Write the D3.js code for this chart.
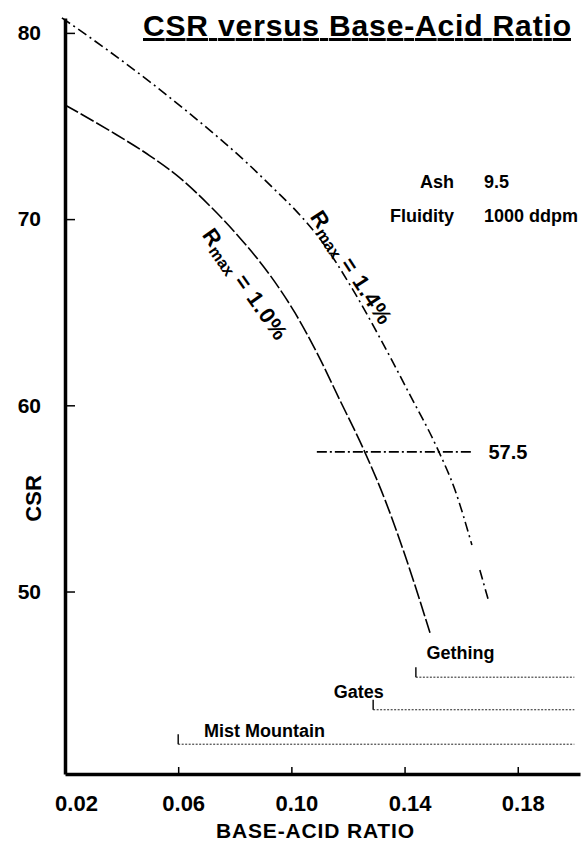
<!DOCTYPE html>
<html>
<head>
<meta charset="utf-8">
<script src="https://cdn.jsdelivr.net/npm/d3@7"></script>
<style>
  body { margin: 0; background: #fff; }
  svg { display: block; font-family: "Liberation Sans", Arial, sans-serif; }
</style>
</head>
<body>
<svg id="chart" width="582" height="848"></svg>
<script>
const x_ticks = [0.02, 0.06, 0.1, 0.14, 0.18];
const y_ticks = [50, 60, 70, 80];

// Rmax = 1.4% (dash-dot), null marks the pen gap
const rmax14_ratio = [0.0189, 0.0359, 0.05, 0.0642, 0.0843, 0.0942, 0.102, 0.1101, 0.1207, 0.1313, 0.1419, 0.1515, 0.1578, 0.1638, null, 0.1666, 0.1698];
const rmax14_csr = [80.81, 78.98, 77.37, 75.65, 73.02, 71.57, 70.39, 68.94, 66.47, 63.62, 60.56, 57.71, 55.46, 52.5, null, 51.16, 49.44];

// Rmax = 1.0% (long dash)
const rmax10_ratio = [0.02, 0.0359, 0.05, 0.0606, 0.0712, 0.0818, 0.0924, 0.1013, 0.1094, 0.1171, 0.1253, 0.1331, 0.1401, 0.149];
const rmax10_csr = [76.13, 74.74, 73.4, 72.21, 70.71, 68.99, 67.0, 64.96, 62.71, 60.29, 57.71, 54.92, 51.97, 47.78];

const target_csr = 57.5;
const target_ratio = [0.109, 0.164];

const formation_names = ["Gething", "Gates", "Mist Mountain"];
const formation_start = [0.144, 0.1289, 0.06];
const formation_level = [45.4, 43.65, 41.8];
const formation_label_ratio = [0.1598, 0.1238, 0.0905];
const formation_label_csr = [46.7, 44.6, 42.5];

const curve_labels = [
  { main: "R", sub: "max", rest: " = 1.4%", ratio: 0.1213, csr: 67.4, angle: 57 },
  { main: "R", sub: "max", rest: " = 1.0%", ratio: 0.0838, csr: 66.5, angle: 55 },
];

const note_names = ["Ash", "Fluidity"];
const note_values = ["9.5", "1000 ddpm"];

const svg = d3.select("#chart");

const x = d3.scaleLinear().domain([0.02, 0.202]).range([65, 580]);
const y = d3.scaleLinear().domain([40.2, 80.8]).range([774, 18]);

// title
svg.append("text")
  .attr("x", 143)
  .attr("y", 36)
  .attr("font-size", 30)
  .attr("font-weight", "bold")
  .attr("textLength", 428)
  .attr("lengthAdjust", "spacing")
  .style("text-decoration", "underline")
  .text("CSR versus Base-Acid Ratio");

// axes
const x_axis = svg.append("g")
  .attr("transform", `translate(0,${y(40.2)})`)
  .call(d3.axisBottom(x).tickValues(x_ticks).tickFormat(d3.format(".2f"))
    .tickSizeInner(-7).tickSizeOuter(0).tickPadding(21));
x_axis.select(".domain").attr("stroke-width", 3.5);
x_axis.selectAll(".tick line").attr("stroke-width", 1.5);
x_axis.selectAll(".tick text")
  .attr("font-size", 22)
  .attr("font-weight", "bold")
  .attr("font-family", "Liberation Sans, Arial, sans-serif")
  .attr("fill", "#000")
  .attr("dx", (d, i) => (i === 0 ? 11 : 5));

const y_axis = svg.append("g")
  .attr("transform", `translate(${x(0.02)},0)`)
  .call(d3.axisLeft(y).tickValues(y_ticks).tickSizeInner(-10).tickSizeOuter(0).tickPadding(24));
y_axis.select(".domain").attr("stroke-width", 3.5);
y_axis.selectAll(".tick line").attr("stroke-width", 1.5);
y_axis.selectAll(".tick text")
  .attr("font-size", 21)
  .attr("font-weight", "bold")
  .attr("font-family", "Liberation Sans, Arial, sans-serif")
  .attr("fill", "#000");

svg.append("text")
  .attr("x", 315)
  .attr("y", 838)
  .attr("text-anchor", "middle")
  .attr("font-size", 21)
  .attr("font-weight", "bold")
  .attr("textLength", 198)
  .attr("lengthAdjust", "spacing")
  .text("BASE-ACID RATIO");

svg.append("text")
  .attr("transform", `translate(41,${y(55)}) rotate(-90)`)
  .attr("text-anchor", "middle")
  .attr("font-size", 22)
  .attr("font-weight", "bold")
  .text("CSR");

// curves
const line = d3.line()
  .defined((d) => d[0] !== null)
  .x((d) => x(d[0]))
  .y((d) => y(d[1]))
  .curve(d3.curveMonotoneX);

svg.append("path")
  .datum(d3.zip(rmax14_ratio, rmax14_csr))
  .attr("d", line)
  .attr("fill", "none")
  .attr("stroke", "#000")
  .attr("stroke-width", 1.6)
  .attr("stroke-dasharray", "10,4,2,4");

svg.append("path")
  .datum(d3.zip(rmax10_ratio, rmax10_csr))
  .attr("d", line)
  .attr("fill", "none")
  .attr("stroke", "#000")
  .attr("stroke-width", 1.6)
  .attr("stroke-dasharray", "15,3");

// 57.5 reference line
svg.append("line")
  .attr("x1", x(target_ratio[0]))
  .attr("x2", x(target_ratio[1]))
  .attr("y1", y(target_csr))
  .attr("y2", y(target_csr))
  .attr("stroke", "#000")
  .attr("stroke-width", 1.6)
  .attr("stroke-dasharray", "10,3,2,3");

svg.append("text")
  .attr("x", x(target_ratio[1]) + 16)
  .attr("y", y(target_csr))
  .attr("dy", "0.35em")
  .attr("font-size", 20)
  .attr("font-weight", "bold")
  .text(String(target_csr));

// curve labels
curve_labels.forEach((c) => {
  const t = svg.append("text")
    .attr("transform", `translate(${x(c.ratio)},${y(c.csr)}) rotate(${c.angle})`)
    .attr("text-anchor", "middle")
    .attr("dy", "0.35em")
    .attr("font-size", 22)
    .attr("font-weight", "bold")
    .attr("letter-spacing", 1);
  t.append("tspan").text(c.main);
  t.append("tspan").attr("font-size", 16).attr("baseline-shift", "-25%").attr("letter-spacing", 0).text(c.sub);
  t.append("tspan").text(c.rest);
});

// notes
const notes = svg.append("g").attr("font-size", 18).attr("font-weight", "bold");
notes.selectAll("text.name")
  .data(note_names)
  .join("text")
  .attr("class", "name")
  .attr("x", 454)
  .attr("y", (d, i) => 188 + i * 34)
  .attr("text-anchor", "end")
  .text((d) => d);
notes.selectAll("text.value")
  .data(note_values)
  .join("text")
  .attr("class", "value")
  .attr("x", 484)
  .attr("y", (d, i) => 188 + i * 34)
  .text((d) => d);

// formation ranges
const formations = svg.append("g");
formation_names.forEach((name, i) => {
  formations.append("line")
    .attr("x1", x(formation_start[i]))
    .attr("x2", x(0.2))
    .attr("y1", y(formation_level[i]))
    .attr("y2", y(formation_level[i]))
    .attr("stroke", "#222")
    .attr("stroke-width", 1)
    .attr("stroke-dasharray", "2,1.5");
  formations.append("line")
    .attr("x1", x(formation_start[i]))
    .attr("x2", x(formation_start[i]))
    .attr("y1", y(formation_level[i]))
    .attr("y2", y(formation_level[i]) - 10)
    .attr("stroke", "#000")
    .attr("stroke-width", 1.4);
  formations.append("text")
    .attr("x", x(formation_label_ratio[i]))
    .attr("y", y(formation_label_csr[i]))
    .attr("dy", "0.35em")
    .attr("text-anchor", "middle")
    .attr("font-size", 18)
    .attr("font-weight", "bold")
    .text(name);
});
</script>
</body>
</html>
